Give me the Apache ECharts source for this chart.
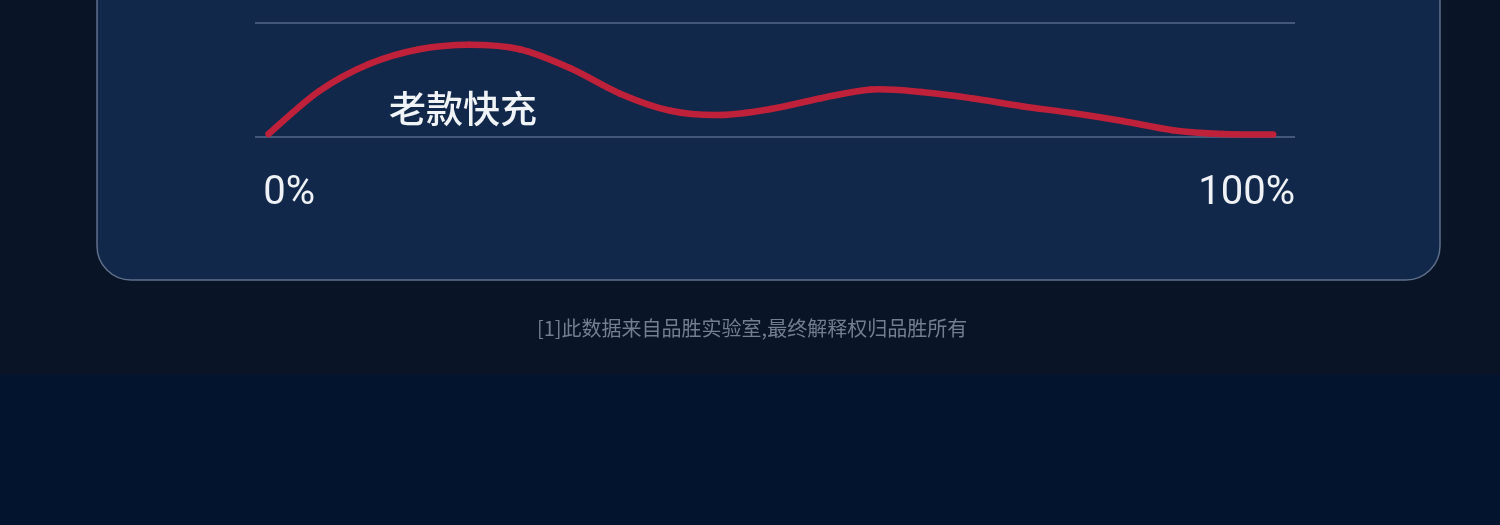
<!DOCTYPE html>
<html>
<head>
<meta charset="utf-8">
<style>
  html, body { margin: 0; padding: 0; background: #0a1427; }
  #chart { width: 1500px; height: 525px; }
</style>
<script src="https://cdn.jsdelivr.net/npm/echarts@6/dist/echarts.min.js"></script>
</head>
<body>
<div id="chart"></div>
<script>
// charge curve: x = charge progress (%), y = relative power
var progress = [1.3, 6.13, 10.96, 15.79, 20.62, 25.45, 30.28, 35.11, 39.94, 44.77, 49.6,
  54.43, 59.26, 64.09, 68.92, 73.75, 78.58, 83.41, 88.24, 93.07, 97.9];
var power = [2.6, 40, 64, 77, 81, 77, 60.5, 38, 23, 19.3, 24.5,
  34, 41.7, 39.5, 34, 27, 21, 14, 6, 2.6, 2.2];
var xTicks = [0, 100];
var seriesName = '老款快充';
var footnote = '[1]此数据来自品胜实验室,最终解释权归品胜所有';

var chart = echarts.init(document.getElementById('chart'));

var points = progress.map(function (x, i) { return [x, power[i]]; });

// the built-in smoothing leaves small corners, so draw a catmull-rom
// curve segment per point, still placed through the axes with api.coord
function renderSegment(params, api) {
  var i = params.dataIndex;
  var n = points.length;
  if (i >= n - 1) return null;
  var p0 = api.coord(points[Math.max(i - 1, 0)]);
  var p1 = api.coord(points[i]);
  var p2 = api.coord(points[i + 1]);
  var p3 = api.coord(points[Math.min(i + 2, n - 1)]);
  return {
    type: 'bezierCurve',
    shape: {
      x1: p1[0], y1: p1[1],
      x2: p2[0], y2: p2[1],
      cpx1: p1[0] + (p2[0] - p0[0]) / 6,
      cpy1: p1[1] + (p2[1] - p0[1]) / 6,
      cpx2: p2[0] - (p3[0] - p1[0]) / 6,
      cpy2: p2[1] - (p3[1] - p1[1]) / 6
    },
    style: { stroke: '#be2139', lineWidth: 6.5, fill: null, lineCap: 'round' }
  };
}

var option = {
  backgroundColor: '#0a1427',
  animation: false,
  grid: { left: 255, right: 205, top: 23, height: 114 },
  xAxis: {
    type: 'value',
    min: 0,
    max: 100,
    interval: 100,
    axisLine: { show: false },
    axisTick: { show: false },
    splitLine: { show: false },
    axisLabel: {
      customValues: xTicks,
      // thin space keeps 0% a little in from the grid edge like the original
      formatter: function (v) { return (v === 0 ? '\u2009' : '') + v + '%'; },
      color: '#eef1f5',
      fontSize: 40,
      fontFamily: 'Roboto',
      margin: 37,
      alignMinLabel: 'left',
      alignMaxLabel: 'right'
    }
  },
  yAxis: {
    type: 'value',
    min: 0,
    max: 100,
    interval: 100,
    axisLine: { show: false },
    axisTick: { show: false },
    axisLabel: { show: false },
    splitLine: { lineStyle: { color: '#56698a', width: 1.5 } }
  },
  graphic: [
    {
      type: 'rect',
      z: -10,
      silent: true,
      shape: { x: 0, y: 375, width: 1500, height: 150 },
      style: { fill: '#03142f' }
    },
    {
      type: 'rect',
      z: -9,
      silent: true,
      shape: { x: 97, y: -60, width: 1343, height: 340, r: 34 },
      style: { fill: '#11284a', stroke: '#5f6f8a', lineWidth: 1.5 }
    },
    {
      type: 'text',
      left: 389,
      top: 90,
      style: {
        text: seriesName,
        fill: '#f0f3f7',
        font: '500 37px "Noto Sans CJK SC"'
      }
    },
    {
      type: 'text',
      left: 537,
      top: 318,
      style: {
        text: footnote,
        fill: '#747e90',
        font: '20px "Noto Sans CJK SC"'
      }
    }
  ],
  series: [{
    name: seriesName,
    type: 'custom',
    data: points,
    clip: false,
    renderItem: renderSegment
  }]
};

chart.setOption(option);
</script>
</body>
</html>
